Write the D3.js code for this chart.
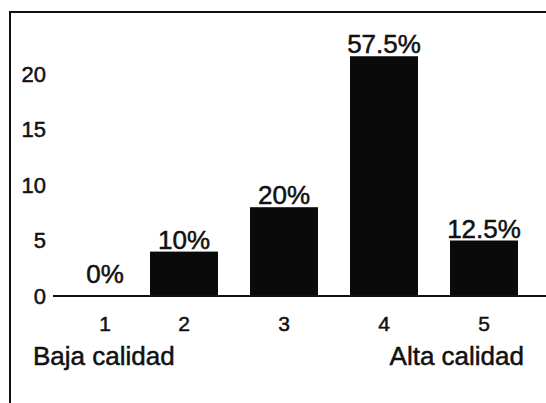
<!DOCTYPE html>
<html>
<head>
<meta charset="utf-8">
<script src="https://cdn.jsdelivr.net/npm/d3@7"></script>
<style>
  body { margin: 0; background: #fff; }
  text { font-family: "Liberation Sans", Arial, sans-serif; fill: #111; stroke: #111; stroke-width: 0.5px; }
</style>
</head>
<body>
<script>
// data
var categories = ["1", "2", "3", "4", "5"];
var counts = [0, 4, 8, 21.6, 5];
var percentLabels = ["0%", "10%", "20%", "57.5%", "12.5%"];
var yTicks = [0, 5, 10, 15, 20];
var endLabels = ["Baja calidad", "Alta calidad"];

var svgWidth = 546;
var svgHeight = 403;

var svg = d3.select("body")
  .append("svg")
  .attr("width", svgWidth)
  .attr("height", svgHeight);

// frame (top and left edge only, like the scan)
svg.append("path")
  .attr("d", "M10,403 V12 H546")
  .attr("fill", "none")
  .attr("stroke", "#111")
  .attr("stroke-width", 2);

// scales
var x = d3.scaleBand()
  .domain(categories)
  .range([34, 534])
  .paddingInner(0.32)
  .paddingOuter(0.16);

var y = d3.scaleLinear()
  .domain([0, 20])
  .range([296, 74]);

// y tick labels, no axis line
svg.append("g")
  .selectAll("text")
  .data(yTicks)
  .enter()
  .append("text")
  .attr("x", 46)
  .attr("y", d => y(d))
  .attr("dy", "0.36em")
  .attr("text-anchor", "end")
  .style("font-size", "22px")
  .text(d => d);

// bars
svg.append("g")
  .selectAll("rect")
  .data(counts)
  .enter()
  .append("rect")
  .attr("x", (d, i) => x(categories[i]))
  .attr("y", d => y(d))
  .attr("width", x.bandwidth())
  .attr("height", d => y(0) - y(d))
  .attr("fill", "#0a0a0a");

// baseline
svg.append("line")
  .attr("x1", 53)
  .attr("x2", svgWidth)
  .attr("y1", y(0))
  .attr("y2", y(0))
  .attr("stroke", "#111")
  .attr("stroke-width", 2);

// the empty first category sits a bit right of its band in the original
var shift = (d, i) => i === 0 ? 21 : 0;

// percent labels over bars
svg.append("g")
  .selectAll("text")
  .data(counts)
  .enter()
  .append("text")
  .attr("x", (d, i) => x(categories[i]) + x.bandwidth() / 2 + shift(d, i))
  .attr("y", d => Math.min(y(d) - 3, y(0) - 13))
  .attr("text-anchor", "middle")
  .style("font-size", "26px")
  .text((d, i) => percentLabels[i]);

// category numbers
svg.append("g")
  .selectAll("text")
  .data(categories)
  .enter()
  .append("text")
  .attr("x", (d, i) => x(d) + x.bandwidth() / 2 + shift(d, i))
  .attr("y", 331)
  .attr("text-anchor", "middle")
  .style("font-size", "21px")
  .text(d => d);

// end labels
svg.append("text")
  .attr("x", 33)
  .attr("y", 365)
  .style("font-size", "26px")
  .text(endLabels[0]);

svg.append("text")
  .attr("x", 524)
  .attr("y", 365)
  .attr("text-anchor", "end")
  .style("font-size", "26px")
  .text(endLabels[1]);
</script>
</body>
</html>
